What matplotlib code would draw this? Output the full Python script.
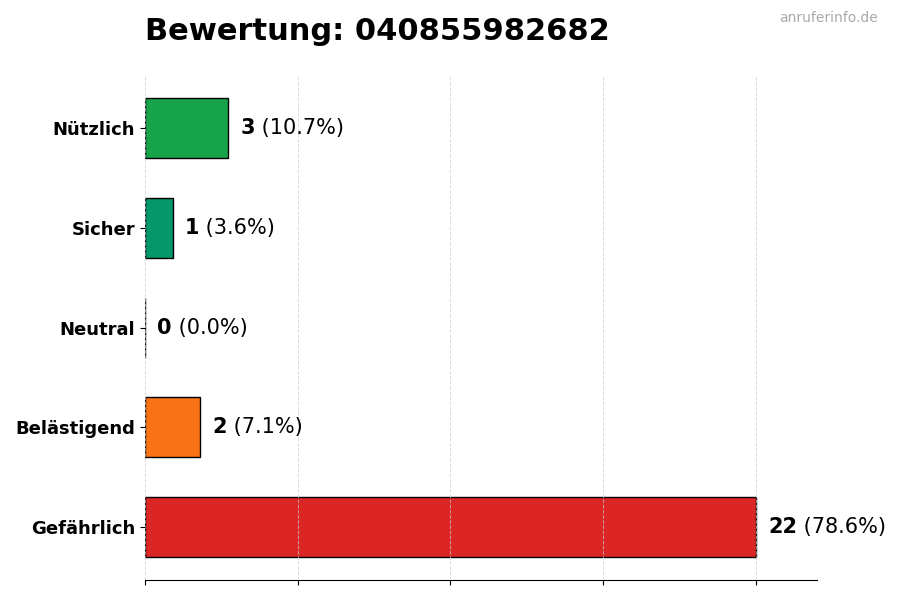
import matplotlib
matplotlib.use('Agg')
import matplotlib.pyplot as plt
import numpy as np

# Daten (von oben nach unten)
kategorien = ['Nützlich', 'Sicher', 'Neutral', 'Belästigend', 'Gefährlich']
anzahl = [3, 1, 0, 2, 22]
farben = ['#16a34a', '#059669', '#6b7280', '#f97316', '#dc2626']
nummer = '040855982682'

gesamt = sum(anzahl)
prozent = [a / gesamt * 100 for a in anzahl]

# Reihenfolge umdrehen, damit Nützlich oben steht
y = np.arange(len(kategorien))[::-1]

fig, ax = plt.subplots(figsize=(9, 6), dpi=100)
fig.subplots_adjust(left=0.161, right=0.908, top=0.875, bottom=0.033)

ax.barh(y, anzahl, height=0.6, color=farben, edgecolor='black', linewidth=1)

max_wert = max(anzahl)
ax.set_xlim(0, max_wert * 1.1)
ax.set_xticks(np.linspace(0, max_wert, 5))
ax.set_xticklabels([])
ax.set_yticks(y)
ax.set_yticklabels(kategorien, fontsize=13, fontweight='bold')

ax.grid(axis='x', linestyle='--', color='#cccccc', linewidth=0.7, alpha=0.7)
ax.set_axisbelow(False)

for s in ['top', 'right', 'left']:
    ax.spines[s].set_visible(False)

# Beschriftung der Balken
versatz = max_wert * 0.02
for yi, a, p in zip(y, anzahl, prozent):
    t = ax.text(a + versatz, yi, f'{a}', va='center', ha='left', fontsize=15, fontweight='bold')
    ax.annotate(f' ({p:.1f}%)', xycoords=t, xy=(1, 0.5), va='center', ha='left', fontsize=15)

ax.set_title(f'Bewertung: {nummer}', fontsize=22, fontweight='bold', loc='left', pad=25)
fig.text(0.975, 0.982, 'anruferinfo.de', ha='right', va='top', fontsize=10, color='#aaaaaa')

plt.savefig('out.png', dpi=100)
